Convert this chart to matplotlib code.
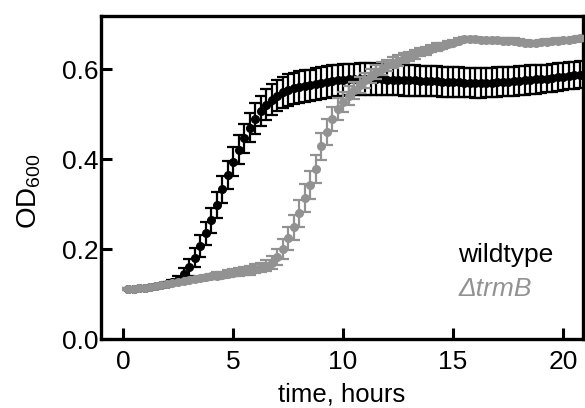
import numpy as np
import matplotlib
matplotlib.use('Agg')
import matplotlib.pyplot as plt

plt.rcParams['font.family'] = ['Liberation Sans', 'DejaVu Sans']
plt.rcParams['mathtext.default'] = 'regular'

# sampling every 15 min
time = np.arange(0.25, 20.76, 0.25)

wt = [0.112, 0.112, 0.113, 0.114, 0.115, 0.117, 0.119, 0.122, 0.126, 0.132,
      0.144, 0.159, 0.181, 0.207, 0.235, 0.264, 0.298, 0.333, 0.364, 0.394,
      0.421, 0.446, 0.470, 0.490, 0.507, 0.521, 0.532, 0.541, 0.548, 0.553,
      0.557, 0.560, 0.562, 0.564, 0.567, 0.569, 0.571, 0.573, 0.575, 0.576,
      0.577, 0.577, 0.578, 0.578, 0.578, 0.577, 0.577, 0.576, 0.576, 0.576,
      0.575, 0.575, 0.575, 0.574, 0.574, 0.573, 0.573, 0.572, 0.572, 0.571,
      0.571, 0.570, 0.570, 0.569, 0.569, 0.570, 0.570, 0.571, 0.572, 0.572,
      0.573, 0.574, 0.575, 0.576, 0.577, 0.578, 0.579, 0.580, 0.582, 0.583,
      0.585, 0.586, 0.587]
wt_err = [0.002, 0.002, 0.002, 0.002, 0.002, 0.003, 0.003, 0.004, 0.006, 0.009,
          0.013, 0.018, 0.021, 0.024, 0.026, 0.028, 0.029, 0.030, 0.031, 0.032,
          0.032, 0.033, 0.033, 0.034, 0.034, 0.035, 0.035, 0.035, 0.035, 0.035,
          0.035, 0.035, 0.035, 0.035, 0.035, 0.035, 0.035, 0.035, 0.035, 0.035,
          0.035, 0.035, 0.035, 0.035, 0.035, 0.034, 0.034, 0.034, 0.034, 0.034,
          0.034, 0.034, 0.034, 0.033, 0.033, 0.033, 0.033, 0.033, 0.033, 0.033,
          0.033, 0.033, 0.033, 0.033, 0.033, 0.033, 0.033, 0.033, 0.032, 0.032,
          0.032, 0.032, 0.032, 0.032, 0.032, 0.031, 0.031, 0.031, 0.031, 0.030,
          0.030, 0.030, 0.030]

trmb = [0.111, 0.112, 0.113, 0.114, 0.116, 0.118, 0.120, 0.122, 0.124, 0.126,
        0.128, 0.131, 0.133, 0.135, 0.137, 0.139, 0.141, 0.143, 0.145, 0.147,
        0.149, 0.151, 0.153, 0.156, 0.159, 0.163, 0.170, 0.182, 0.200, 0.224,
        0.248, 0.279, 0.313, 0.343, 0.378, 0.428, 0.460, 0.489, 0.511, 0.527,
        0.541, 0.553, 0.565, 0.575, 0.585, 0.594, 0.601, 0.608, 0.614, 0.619,
        0.624, 0.629, 0.633, 0.637, 0.641, 0.645, 0.649, 0.652, 0.655, 0.659,
        0.663, 0.666, 0.667, 0.666, 0.665, 0.664, 0.664, 0.664, 0.663, 0.663,
        0.663, 0.661, 0.659, 0.657, 0.658, 0.660, 0.661, 0.662, 0.663, 0.664,
        0.665, 0.666, 0.668]
trmb_err = [0.002, 0.002, 0.002, 0.002, 0.002, 0.002, 0.003, 0.003, 0.003, 0.003,
            0.004, 0.004, 0.005, 0.005, 0.006, 0.006, 0.007, 0.007, 0.008, 0.008,
            0.009, 0.009, 0.010, 0.010, 0.011, 0.012, 0.014, 0.018, 0.022, 0.026,
            0.028, 0.030, 0.031, 0.031, 0.031, 0.030, 0.029, 0.027, 0.025, 0.023,
            0.021, 0.019, 0.018, 0.017, 0.016, 0.015, 0.014, 0.013, 0.012, 0.012,
            0.011, 0.010, 0.010, 0.009, 0.009, 0.008, 0.008, 0.007, 0.007, 0.006,
            0.006, 0.006, 0.005, 0.005, 0.005, 0.005, 0.005, 0.005, 0.005, 0.005,
            0.005, 0.005, 0.005, 0.005, 0.005, 0.005, 0.005, 0.005, 0.005, 0.005,
            0.005, 0.005, 0.005]

xticks = [0, 5, 10, 15, 20]
yticks = [0.0, 0.2, 0.4, 0.6]

black = '#000000'
grey = '#929292'

fig = plt.figure(figsize=(5.85, 4.08), dpi=100)
ax = fig.add_axes([0.1726, 0.1691, 0.8239, 0.7917])

ax.errorbar(time, wt, yerr=wt_err, fmt='o', color=black, ms=5.5,
            elinewidth=1.6, capsize=4.5, capthick=1.6, zorder=2)
ax.errorbar(time, trmb, yerr=trmb_err, fmt='o', color=grey, ms=5.5,
            elinewidth=1.6, capsize=4.5, capthick=1.6, zorder=3)

ax.set_xlim(-1.0, 20.9)
ax.set_ylim(0, 0.718)
ax.set_xticks(xticks)
ax.set_yticks(yticks)
ax.set_yticklabels(['%.1f' % v for v in yticks])

for s in ax.spines.values():
    s.set_linewidth(2.4)
ax.tick_params(direction='in', length=8, width=2.2, labelsize=19)
ax.tick_params(axis='x', pad=8)
ax.tick_params(axis='y', pad=1.5)

ax.set_xlabel('time, hours', fontsize=18.5)
ax.xaxis.set_label_coords(0.5, -0.136)
ax.set_ylabel('$OD_{600}$', fontsize=20)
ax.yaxis.set_label_coords(-0.12, 0.457)

ax.text(0.741, 0.26, 'wildtype', transform=ax.transAxes, fontsize=19,
        color=black, va='center', ha='left')
ax.text(0.741, 0.155, '\u0394trmB', transform=ax.transAxes, fontsize=19,
        color=grey, va='center', ha='left', fontstyle='italic')

fig.savefig('out.png', dpi=100)
